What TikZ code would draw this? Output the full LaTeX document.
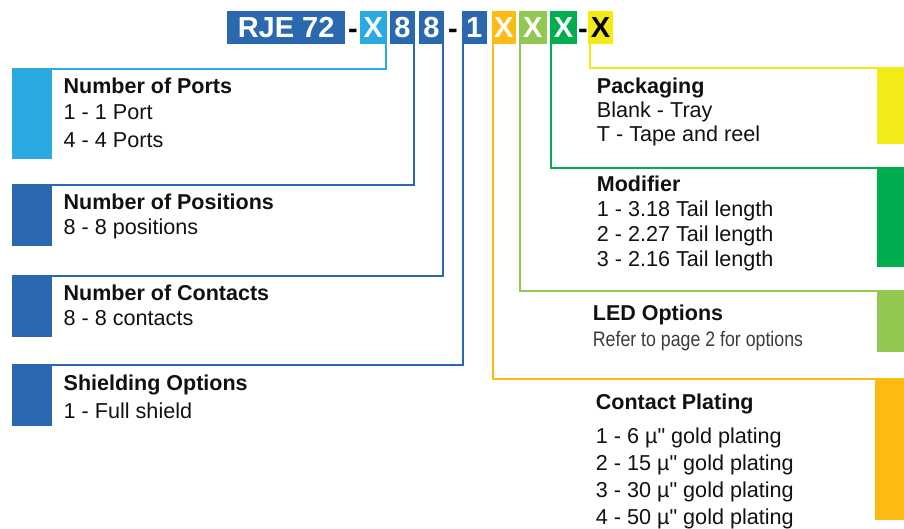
\documentclass[tikz,border=0pt]{standalone}
\usepackage{fontspec}
\setmainfont{Liberation Sans}[Ligatures=TeXOff]
\usepackage{graphicx}
\definecolor{dblue}{RGB}{42,104,176}
\definecolor{lblue}{RGB}{41,171,226}
\definecolor{orng}{RGB}{252,186,18}
\definecolor{lgrn}{RGB}{146,199,82}
\definecolor{grn}{RGB}{0,174,80}
\definecolor{ylw}{RGB}{244,234,24}
\definecolor{txt}{RGB}{17,17,17}
\definecolor{gtxt}{RGB}{60,60,60}
\begin{document}
\begin{tikzpicture}[x=1pt,y=-1pt,
  hbox/.style={anchor=north west,inner sep=0,outer sep=0,minimum height=33.3pt,
    text=white,font=\bfseries\fontsize{29}{32}\selectfont},
  hdash/.style={anchor=base,inner sep=0,font=\bfseries\fontsize{29}{32}\selectfont,text=black},
  bar/.style={anchor=north west,inner sep=0,outer sep=0},
  ttl/.style={anchor=base west,inner sep=0,text=txt,font=\bfseries\fontsize{21.5}{24}\selectfont},
  itm/.style={anchor=base west,inner sep=0,text=txt,font=\fontsize{21.6}{24}\selectfont},
  conn/.style={line width=2pt}
]
\useasboundingbox (0,0) rectangle (904,529);

% header
\node[hbox,fill=dblue,minimum width=117.7pt] (hR) at (227.3,11) {RJE 72};
\node[hdash] (d1) at (353,38.5) {-};
\node[hbox,fill=lblue,minimum width=26.7pt] (hX) at (360,11) {X};
\node[hbox,fill=dblue,minimum width=25pt] (h8a) at (390,11) {8};
\node[hbox,fill=dblue,minimum width=25pt] (h8b) at (419,11) {8};
\node[hdash] (d2) at (453,38.5) {-};
\node[hbox,fill=dblue,minimum width=25pt] (h1) at (461.7,11) {1};
\node[hbox,fill=orng,minimum width=24.3pt] (hO) at (491.7,11) {X};
\node[hbox,fill=lgrn,minimum width=27.7pt] (hL) at (519,11) {X};
\node[hbox,fill=grn,minimum width=27pt] (hG) at (550,11) {X};
\node[hdash] (d3) at (583,38.5) {-};
\node[hbox,fill=ylw,minimum width=25.3pt,text=black] (hY) at (588,11) {X};

% left bars
\node[bar,fill=lblue,minimum width=40pt,minimum height=91pt] (bPorts) at (12,68.3) {};
\node[bar,fill=dblue,minimum width=40pt,minimum height=61.4pt] (bPos) at (12,184.3) {};
\node[bar,fill=dblue,minimum width=40pt,minimum height=61.7pt] (bCon) at (12,275) {};
\node[bar,fill=dblue,minimum width=40pt,minimum height=61.7pt] (bShd) at (12,364) {};

% right bars
\node[bar,fill=ylw,minimum width=27pt,minimum height=76.7pt] (bPack) at (877,67.3) {};
\node[bar,fill=grn,minimum width=27pt,minimum height=100pt] (bMod) at (877,166.7) {};
\node[bar,fill=lgrn,minimum width=27pt,minimum height=61.7pt] (bLed) at (877,290) {};
\node[bar,fill=orng,minimum width=29pt,minimum height=142pt] (bPlt) at (875,378.3) {};

% connectors
\draw[conn,lblue] ([xshift=-1pt]hX.south east) |- ([yshift=-1pt]bPorts.north east);
\draw[conn,dblue] ([xshift=-1pt]h8a.south east) |- ([yshift=-0.5pt]bPos.north east);
\draw[conn,dblue] ([xshift=-1pt]h8b.south east) |- ([yshift=-0.5pt]bCon.north east);
\draw[conn,dblue] ([xshift=1pt]h1.south west) |- ([yshift=-0.5pt]bShd.north east);
\draw[conn,orng] ([xshift=1pt]hO.south west) |- ([yshift=-1pt]bPlt.north west);
\draw[conn,lgrn] ([xshift=1pt]hL.south west) |- ([yshift=-1pt]bLed.north west);
\draw[conn,grn] ([xshift=1pt]hG.south west) |- ([yshift=-1pt]bMod.north west);
\draw[conn,ylw] ([xshift=2pt]hY.south west) |- ([yshift=-1pt]bPack.north west);

% left texts
\node[ttl] (tPorts) at (63.5,93.3) {Number of Ports};
\node[itm] (tPorts1) at (63.5,119.3) {1 - 1 Port};
\node[itm] (tPorts2) at (63.5,147.3) {4 - 4 Ports};
\node[ttl] (tPos) at (63.5,210) {Number of Positions};
\node[itm] (tPos1) at (63.5,235) {8 - 8 positions};
\node[ttl] (tCon) at (63.5,300) {Number of Contacts};
\node[itm] (tCon1) at (63.5,325) {8 - 8 contacts};
\node[ttl] (tShd) at (63.5,390.7) {Shielding Options};
\node[itm] (tShd1) at (63.5,418.3) {1 - Full shield};

% right texts
\node[ttl] (tPack) at (596.7,93.3) {Packaging};
\node[itm] (tPack1) at (596.7,117.3) {Blank - Tray};
\node[itm] (tPack2) at (596.7,141.7) {T - Tape and reel};
\node[ttl] (tMod) at (596.7,191.7) {Modifier};
\node[itm] (tMod1) at (596.7,216.7) {1 - 3.18 Tail length};
\node[itm] (tMod2) at (596.7,241.7) {2 - 2.27 Tail length};
\node[itm] (tMod3) at (596.7,266) {3 - 2.16 Tail length};
\node[ttl] (tLed) at (592.7,320.7) {LED Options};
\node[itm,text=gtxt,font=\fontsize{21}{24}\selectfont] (tLed1) at (592.7,346.7) {\scalebox{0.845}[1]{Refer to page 2 for options}};
\node[ttl] (tPlt) at (595.7,409.3) {Contact Plating};
\node[itm] (tPlt1) at (595.7,443) {1 - 6 µ" gold plating};
\node[itm] (tPlt2) at (595.7,470.5) {2 - 15 µ" gold plating};
\node[itm] (tPlt3) at (595.7,497.5) {3 - 30 µ" gold plating};
\node[itm] (tPlt4) at (595.7,524) {4 - 50 µ" gold plating};
\end{tikzpicture}
\end{document}
